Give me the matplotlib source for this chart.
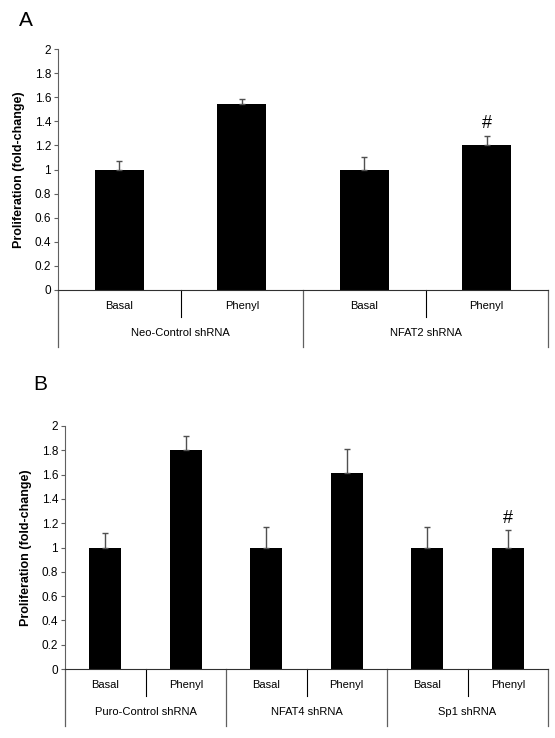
import numpy as np
import matplotlib
matplotlib.use("Agg")
import matplotlib.pyplot as plt

plt.rcParams['font.family'] = ['Liberation Sans', 'DejaVu Sans']

# panel A data
a_groups = ["Neo-Control shRNA", "NFAT2 shRNA"]
a_conditions = ["Basal", "Phenyl", "Basal", "Phenyl"]
a_values = [1.0, 1.54, 1.0, 1.20]
a_errors = [0.07, 0.045, 0.10, 0.08]
a_marks = ["", "", "", "#"]

# panel B data
b_groups = ["Puro-Control shRNA", "NFAT4 shRNA", "Sp1 shRNA"]
b_conditions = ["Basal", "Phenyl", "Basal", "Phenyl", "Basal", "Phenyl"]
b_values = [1.0, 1.80, 1.0, 1.61, 1.0, 1.0]
b_errors = [0.12, 0.12, 0.17, 0.20, 0.17, 0.14]
b_marks = ["", "", "", "", "", "#"]

y_ticks = [0, 0.2, 0.4, 0.6, 0.8, 1, 1.2, 1.4, 1.6, 1.8, 2]
axis_color = "#606060"


# draw one panel with excel-like two level category axis
def Draw_Panel(ax, groups, conditions, values, errors, marks, height_px):
    n = len(conditions)
    x = np.arange(n)
    ax.bar(x, values, width=0.4, color="black", zorder=2)
    ax.errorbar(x, values, yerr=[np.zeros(n), errors], fmt="none",
                ecolor="#505050", elinewidth=1, capsize=2.5, capthick=1, zorder=3)

    for i, m in enumerate(marks):
        if m:
            ax.text(x[i], values[i] + errors[i] + 0.03, m, ha="center", va="bottom", fontsize=13)

    ax.set_xlim(-0.5, n - 0.5)
    ax.set_ylim(0, 2)
    ax.set_yticks(y_ticks)
    ax.set_yticklabels([f"{t:g}" for t in y_ticks], fontsize=8.5)
    ax.tick_params(axis="y", direction="out", length=3, width=0.8, color=axis_color, pad=2)
    ax.set_xticks([])
    ax.spines["top"].set_visible(False)
    ax.spines["right"].set_visible(False)
    ax.spines["left"].set_color(axis_color)
    ax.spines["bottom"].set_color("#303030")
    ax.set_ylabel("Proliferation (fold-change)", fontsize=9, fontweight="bold", labelpad=7)

    short = -27 / height_px
    long = -57 / height_px
    trans = ax.get_xaxis_transform()
    per_group = n // len(groups)

    # dividers between conditions inside a group
    for g in range(len(groups)):
        mid = g * per_group + per_group / 2 - 0.5
        ax.plot([mid, mid], [0, short], color="black", lw=0.8, transform=trans, clip_on=False)
        ax.text(mid, -43 / height_px, groups[g], ha="center", va="center",
                fontsize=8, transform=trans)

    # group dividers and outer edges
    for g in range(len(groups) + 1):
        edge = g * per_group - 0.5
        ax.plot([edge, edge], [0, long], color=axis_color, lw=0.9, transform=trans, clip_on=False)

    for i, c in enumerate(conditions):
        ax.text(x[i], -16 / height_px, c, ha="center", va="center", fontsize=8, transform=trans)


figure = plt.figure(figsize=(5.55, 7.38), dpi=100)
ax_a = figure.add_axes([58 / 555, 1 - 290 / 738, 490 / 555, 241 / 738])
ax_b = figure.add_axes([65 / 555, 1 - 669 / 738, 483 / 555, 243 / 738])

Draw_Panel(ax_a, a_groups, a_conditions, a_values, a_errors, a_marks, 241)
Draw_Panel(ax_b, b_groups, b_conditions, b_values, b_errors, b_marks, 243)

figure.text(26 / 555, 1 - 20 / 738, "A", fontsize=15, ha="center", va="center")
figure.text(40 / 555, 1 - 384 / 738, "B", fontsize=15, ha="center", va="center")

figure.savefig("out.png", dpi=100)
